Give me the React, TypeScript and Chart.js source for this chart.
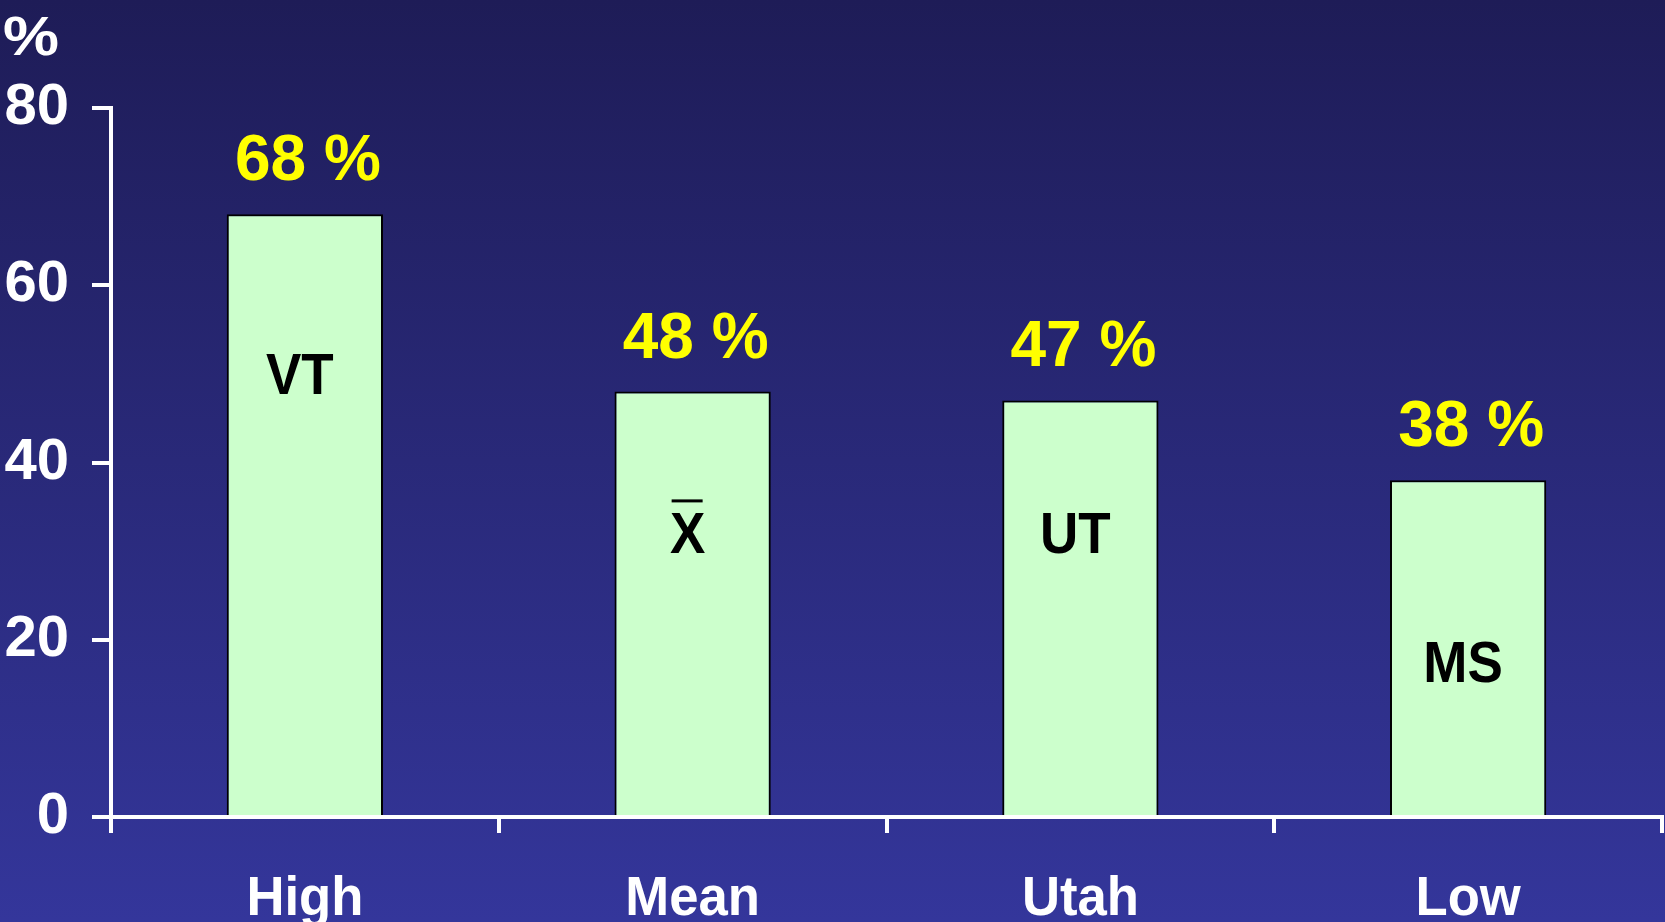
import React, { useEffect, useRef } from "react";
import { Chart, registerables } from "chart.js";

Chart.register(...registerables);

const categories = ["High", "Mean", "Utah", "Low"];
const values = [68, 48, 47, 38];
const valueLabels = ["68 %", "48 %", "47 %", "38 %"];
const barLabels = ["VT", "X", "UT", "MS"];
const barLabelOverline = [false, true, false, false];
const yMin = 0;
const yMax = 80;
const yStep = 20;
const yTitle = "%";

const FONT = "'Liberation Sans', Arial, Helvetica, sans-serif";

export default function App() {
  const ref = useRef<HTMLCanvasElement>(null);

  useEffect(() => {
    document.body.style.margin = "0";
    const canvas = ref.current!;

    const innerLabelAnchor = [50, 32, 32, 17.5];

    const bgPlugin = {
      id: "bg",
      beforeDraw(chart: any) {
        const { ctx, width, height } = chart;
        const g = ctx.createLinearGradient(0, 0, 0, height);
        g.addColorStop(0, "#1e1c57");
        g.addColorStop(1, "#34369b");
        ctx.save();
        ctx.fillStyle = g;
        ctx.fillRect(0, 0, width, height);
        ctx.restore();
      },
    };

    const labelPlugin = {
      id: "labels",
      afterDraw(chart: any) {
        const { ctx } = chart;
        const meta = chart.getDatasetMeta(0);
        const yScale = chart.scales.y;
        const xScale = chart.scales.x;
        ctx.save();
        // value labels
        ctx.fillStyle = "#ffff00";
        ctx.font = `bold 64px ${FONT}`;
        ctx.textAlign = "center";
        ctx.textBaseline = "alphabetic";
        meta.data.forEach((bar: any, i: number) => {
          ctx.fillText(valueLabels[i], bar.x + 3, bar.y - 34);
        });
        // inner labels
        ctx.fillStyle = "#000000";
        ctx.font = `bold 57px ${FONT}`;
        meta.data.forEach((bar: any, i: number) => {
          const cx = bar.x - 5;
          const base = yScale.getPixelForValue(innerLabelAnchor[i]) + 20;
          ctx.save();
          ctx.translate(cx, base);
          ctx.scale(0.93, 1);
          ctx.fillText(barLabels[i], 0, 0);
          ctx.restore();
          if (barLabelOverline[i]) {
            ctx.fillRect(cx - 16, base - 54, 31, 3);
          }
        });
        // category labels
        ctx.fillStyle = "#ffffff";
        ctx.font = `bold 56px ${FONT}`;
        categories.forEach((c, i) => {
          const cx = xScale.getPixelForValue(i);
          ctx.save();
          ctx.translate(cx, 915);
          ctx.scale(0.94, 1);
          ctx.fillText(c, 0, 0);
          ctx.restore();
        });
        // y title
        ctx.textAlign = "left";
        ctx.font = `bold 60px ${FONT}`;
        ctx.save();
        ctx.translate(3, 55);
        ctx.scale(1.05, 0.92);
        ctx.fillText(yTitle, 0, 0);
        ctx.restore();
        ctx.restore();
      },
    };

    const chart = new Chart(canvas, {
      type: "bar",
      data: {
        labels: categories,
        datasets: [
          {
            data: values,
            backgroundColor: "#ccffcc",
            borderColor: "#000000",
            borderWidth: 2,
            categoryPercentage: 1,
            barPercentage: 0.403,
          },
        ],
      },
      options: {
        responsive: false,
        animation: false,
        devicePixelRatio: 1,
        layout: { padding: { top: 108, right: 3, left: 0, bottom: 0 } },
        plugins: {
          legend: { display: false },
          tooltip: { enabled: false },
          title: { display: false },
        },
        scales: {
          x: {
            offset: true,
            afterFit(scale: any) {
              scale.height = 105;
            },
            grid: {
              offset: true,
              drawOnChartArea: false,
              drawTicks: true,
              tickLength: 16,
              color: "#ffffff",
              lineWidth: 4,
            },
            border: { color: "#ffffff", width: 4 },
            ticks: { display: false },
          },
          y: {
            min: yMin,
            max: yMax,
            afterFit(scale: any) {
              scale.width = 111;
            },
            ticks: {
              stepSize: yStep,
              color: "#ffffff",
              padding: 23,
              font: { family: FONT, size: 58, weight: "bold" },
            },
            grid: {
              drawOnChartArea: false,
              drawTicks: true,
              tickLength: 19,
              color: "#ffffff",
              lineWidth: 4,
            },
            border: { color: "#ffffff", width: 4 },
          },
        },
      },
      plugins: [bgPlugin, labelPlugin],
    });

    return () => chart.destroy();
  }, []);

  return (
    <div style={{ width: 1665, height: 922 }}>
      <canvas ref={ref} width={1665} height={922} style={{ display: "block" }} />
    </div>
  );
}
